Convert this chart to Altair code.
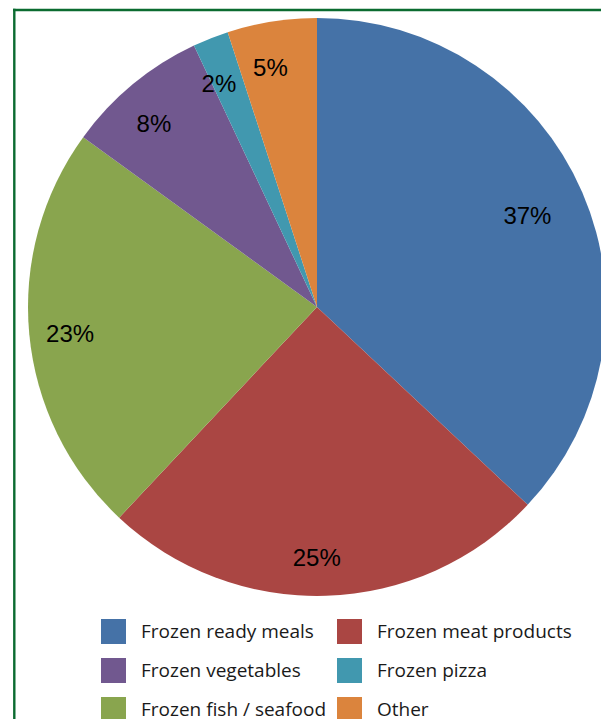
import altair as alt
import pandas as pd

categories = ["Frozen ready meals", "Frozen meat products", "Frozen fish / seafood",
              "Frozen vegetables", "Frozen pizza", "Other"]
shares = [37, 25, 23, 8, 2, 5]
slice_order = [1, 2, 3, 4, 5, 6]
labels = ["37%", "25%", "23%", "8%", "2%", "5%"]

# legend is filled column by column: col 1 then col 2
legend_order = ["Frozen ready meals", "Frozen vegetables", "Frozen fish / seafood",
                "Frozen meat products", "Frozen pizza", "Other"]
legend_colors = ["#4572A7", "#71588F", "#89A54E", "#AA4643", "#4198AF", "#DB843D"]

df = pd.DataFrame({"category": categories, "share": shares,
                   "ord": slice_order, "label": labels})

pie = alt.Chart(df).mark_arc(outerRadius=289).encode(
    theta=alt.Theta("share:Q", stack=True),
    order=alt.Order("ord:Q"),
    x=alt.value(303), y=alt.value(299),
    color=alt.Color(
        "category:N",
        scale=alt.Scale(domain=legend_order, range=legend_colors),
        legend=alt.Legend(
            title=None, orient="none", legendX=87, legendY=611, columns=2,
            symbolType="square", symbolSize=625, symbolStrokeWidth=0,
            symbolOpacity=1, labelFont="Open Sans", labelFontSize=19,
            labelColor="#1a1a1a", labelOffset=15, rowPadding=14,
            columnPadding=10, padding=0, labelLimit=400,
        ),
    ),
)

# labels sit "inside end": their box is kept inside a circle, so the
# radius depends on the label's half width / half height and the angle
text = alt.Chart(df).mark_text(
    font="Liberation Sans", fontSize=24, color="#000000",
    baseline="middle", align="center"
).transform_joinaggregate(
    total="sum(share)"
).transform_window(
    cum="sum(share)", sort=[alt.SortField("ord", order="ascending")],
    frame=[None, 0]
).transform_calculate(
    mid="(datum.cum - datum.share / 2) / datum.total * 2 * PI",
    halfw="length(datum.label) * 6.7 - 2",
).transform_calculate(
    rad="259 - abs(sin(datum.mid)) * datum.halfw - abs(cos(datum.mid)) * 11"
).encode(
    x=alt.value(295), y=alt.value(304),
    theta=alt.Theta("mid:Q", scale=None),
    radius=alt.Radius("rad:Q", scale=None),
    text="label:N",
)

frame_src = alt.Chart(pd.DataFrame({"f": [0]}))
top_line = frame_src.mark_rule(stroke="#0B6B30", strokeWidth=2.6).encode(
    x=alt.value(-1), x2=alt.value(1000), y=alt.value(2)
)
left_line = frame_src.mark_rule(stroke="#0B6B30", strokeWidth=2.4).encode(
    x=alt.value(0.3), y=alt.value(0.7), y2=alt.value(1000)
)

chart = alt.layer(top_line, left_line, pie, text).properties(
    width=587, height=711,
    autosize=alt.AutoSizeParams(type="none"),
    padding={"left": 6, "top": 0, "right": 0, "bottom": 0},
).configure_view(stroke=None)

chart.save("out.html", embed_options={"renderer": "svg", "actions": False})
